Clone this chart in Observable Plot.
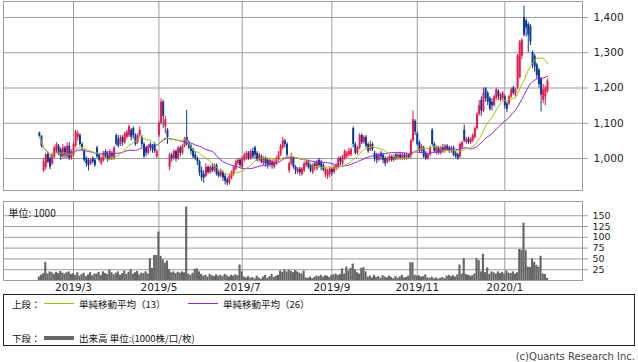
<!DOCTYPE html>
<html><head><meta charset="utf-8">
<script src="https://cdn.jsdelivr.net/npm/d3@7"></script>
<script src="https://cdn.jsdelivr.net/npm/@observablehq/plot@0.6"></script>
<style>
body{margin:0;background:#fff;}
#wrap{position:relative;width:638px;height:362px;overflow:hidden;font-family:"DejaVu Sans",sans-serif;}
#main{position:absolute;left:0;top:0;}
#vol{position:absolute;left:0;top:195px;}
#legend{position:absolute;left:3px;top:294px;width:630px;height:50px;border:1px solid #222;font-family:"Noto Sans CJK JP",sans-serif;font-size:9.5px;color:#111;}
.lt{position:absolute;line-height:12px;white-space:nowrap;}
.ln{position:absolute;width:30px;}
#copy{position:absolute;right:3px;top:351px;font-size:10px;color:#444;line-height:12px;}
</style></head><body>
<div id="wrap">
<div id="main"></div>
<div id="vol"></div>
<div id="legend">
  <div class="lt" style="left:8px;top:3px;">上段：</div>
  <div class="ln" style="left:40px;top:8px;height:1px;background:#99cc00;"></div>
  <div class="lt" style="left:75px;top:3px;">単純移動平均（13）</div>
  <div class="ln" style="left:184px;top:8px;height:1px;background:#9a1ff2;"></div>
  <div class="lt" style="left:219px;top:3px;">単純移動平均（26）</div>
  <div class="lt" style="left:8px;top:37px;">下段：</div>
  <div class="ln" style="left:40px;top:41px;height:4px;background:#666;"></div>
  <div class="lt" style="left:75px;top:37px;">出来高 単位:(1000株/口/枚)</div>
</div>
<div id="copy">(c)Quants Research Inc.</div>
</div>
<script>
const open = [
1072,1062,965,975,1012,1000,985,1005,1020,1035,
1025,1005,1030,1005,1035,1000,1010,1035,1060,1065,
1040,1020,1000,995,985,1000,995,1030,1010,985,
995,1020,1010,1000,1015,1000,1065,1055,1040,1060,
1045,1060,1065,1080,1085,1065,1045,1065,1060,1040,
1030,1015,1040,1035,1040,1005,1065,1100,1160,1090,
1080,975,1010,1000,1020,1000,1030,1015,1035,1060,
1045,1035,1025,1010,1000,990,965,955,950,975,
960,975,965,980,960,950,960,950,940,930,
945,955,970,985,995,975,995,1000,1015,1000,
1020,1030,1015,995,1005,985,1000,995,980,990,
975,985,995,1010,1030,1050,1040,965,985,1000,
975,960,970,955,965,980,990,980,960,985,
970,995,990,980,955,950,955,970,960,970,
975,1000,985,1000,1005,1010,1010,1085,1040,1015,
1030,1065,1045,1060,1040,1025,1040,1015,1010,995,
1015,1010,1000,990,995,1005,995,1010,1000,1010,
1000,1010,1000,1010,1005,1050,1105,1070,1045,1020,
1030,1015,1000,1010,1080,1040,1015,1030,1015,1030,
1020,1035,1030,1020,1030,1015,1010,1005,1030,1080,
1045,1055,1045,1050,1060,1085,1125,1165,1135,1200,
1185,1170,1160,1150,1170,1190,1165,1170,1175,1155,
1155,1175,1200,1180,1200,1230,1290,1400,1390,1380,
1375,1300,1290,1265,1250,1225,1165,1175,1190];
const high = [
1075,1065,1000,1015,1018,1005,1015,1035,1045,1040,
1030,1040,1035,1045,1045,1025,1045,1080,1078,1070,
1045,1025,1005,1000,1000,1005,1000,1035,1015,1005,
1020,1025,1020,1025,1020,1035,1070,1065,1065,1065,
1075,1080,1095,1085,1090,1070,1070,1090,1065,1045,
1035,1040,1045,1040,1045,1025,1105,1170,1165,1120,
1085,1015,1015,1025,1025,1035,1035,1040,1060,1137,
1050,1040,1030,1020,1005,995,975,965,985,980,
980,985,985,985,965,970,965,955,945,955,
965,980,995,1000,1000,1005,1015,1020,1020,1025,
1030,1035,1020,1015,1010,1005,1005,1000,1000,995,
995,1005,1020,1040,1060,1055,1045,990,1015,1005,
980,975,975,975,990,995,995,985,985,990,
995,1000,995,985,975,970,975,975,980,985,
1005,1005,1010,1025,1020,1030,1030,1090,1045,1035,
1070,1070,1065,1065,1045,1050,1045,1020,1015,1015,
1020,1015,1005,1005,1010,1010,1012,1015,1015,1015,
1015,1015,1015,1012,1055,1135,1110,1075,1050,1040,
1035,1020,1015,1035,1085,1045,1035,1035,1035,1040,
1040,1040,1035,1035,1035,1020,1015,1045,1050,1095,
1060,1060,1060,1070,1090,1130,1165,1175,1200,1200,
1190,1175,1170,1180,1200,1195,1185,1190,1180,1160,
1180,1200,1205,1200,1295,1335,1340,1432,1395,1385,
1380,1305,1295,1270,1255,1230,1210,1205,1225];
const low = [
1058,1030,960,968,985,968,980,1000,1015,1008,
995,1000,1000,1000,995,995,1005,1030,1050,1035,
1020,990,975,965,980,985,975,1000,990,980,
990,1000,990,995,995,995,1035,1030,1035,1035,
1040,1055,1060,1050,1055,1035,1040,1060,1030,1000,
1005,1010,1020,1015,1015,1000,1060,1095,1085,1070,
1040,965,990,995,990,995,1005,1010,1030,1035,
1025,1010,1000,995,980,950,935,930,945,955,
955,960,960,950,945,945,935,925,922,925,
940,950,965,980,975,970,990,995,995,995,
1000,1000,990,990,985,980,975,970,975,970,
970,980,990,1005,1025,1030,1005,958,980,970,
955,955,950,950,960,975,970,960,955,965,
965,975,965,962,945,940,945,950,955,965,
970,980,980,995,1000,1005,1005,1030,1010,1010,
1025,1040,1040,1030,1015,1020,1020,990,985,990,
995,985,977,985,990,990,990,995,995,995,
995,995,995,998,1000,1045,1065,1035,1015,1015,
1000,995,995,1005,1035,1015,1010,1010,1010,1015,
1015,1020,1015,1015,1005,1000,995,1000,1025,1045,
1040,1040,1040,1045,1055,1080,1120,1120,1130,1160,
1150,1135,1135,1145,1165,1165,1160,1165,1140,1130,
1150,1170,1180,1175,1195,1225,1280,1345,1345,1300,
1320,1255,1245,1225,1200,1132,1155,1150,1185];
const close = [
1063,1035,990,1010,990,975,1010,1030,1040,1015,
1005,1030,1010,1035,1000,1020,1040,1075,1070,1040,
1030,995,985,980,995,990,980,1005,995,1000,
1015,1005,995,1020,1005,1030,1040,1035,1060,1045,
1070,1075,1090,1060,1065,1040,1065,1080,1040,1005,
1015,1035,1030,1025,1020,1020,1100,1160,1120,1110,
1060,1010,1000,1020,1000,1030,1015,1035,1055,1040,
1030,1020,1005,1000,990,960,945,945,975,960,
975,965,980,955,950,965,945,935,930,950,
960,975,990,995,980,1000,1010,1015,1000,1020,
1005,1010,995,1010,990,1000,985,980,995,980,
990,1000,1010,1035,1050,1040,1010,985,1005,975,
965,970,960,970,985,990,975,965,980,975,
990,980,975,968,970,965,970,960,975,980,
1000,990,1005,1020,1015,1020,1025,1040,1015,1030,
1065,1045,1060,1035,1020,1040,1025,1000,995,1010,
1005,995,985,1000,1005,995,1005,1000,1010,1000,
1010,1000,1010,1002,1050,1110,1075,1040,1020,1035,
1005,1000,1010,1030,1040,1020,1030,1015,1030,1020,
1035,1025,1020,1030,1010,1005,1000,1040,1045,1050,
1055,1045,1055,1065,1085,1125,1150,1135,1185,1170,
1160,1140,1150,1175,1195,1175,1180,1185,1150,1140,
1175,1195,1185,1195,1290,1330,1335,1350,1370,1350,
1330,1265,1260,1235,1210,1180,1195,1200,1220];
const volume = [
8,12,16,42,
15,20,18,14,19,16,21,17,15,18,20,14,
16,12,18,10,14,17,9,13,18,11,15,
15,19,12,20,16,14,24,18,13,
17,20,12,16,22,14,19,25,15,18,21,13,17,16,20,15,
50,28,58,58,112,56,48,40,45,25,
18,20,16,19,17,20,18,
170,
15,12,17,26,27,20,14,
10,12,8,14,11,9,13,10,12,9,14,11,8,12,10,13,11,
36,
20,8,6,9,5,7,4,10,6,3,8,12,5,9,14,7,10,12,
22,19,25,20,24,21,18,23,20,17,15,22,
6,5,8,4,7,
10,9,12,8,11,10,7,12,
13,15,12,14,27,
15,31,22,28,38,25,18,15,
28,30,20,
8,10,6,12,7,9,5,11,8,6,10,7,4,9,5,8,12,6,7,10,
41,41,
12,10,11,8,9,13,
6,5,8,4,6,3,5,7,4,
10,12,9,11,8,13,
36,15,51,
14,12,10,11,15,
51,46,20,61,
18,29,14,20,
18,15,20,16,19,15,22,17,16,20,15,18,
72,70,133,69,
31,30,50,42,35,31,56,15,14,5];
// month-start trading-day positions and labels
const monthIdx = [16, 56, 95, 137, 177, 218];
const monthLabels = ["2019/3", "2019/5", "2019/7", "2019/9", "2019/11", "2020/1"];
const priceTicks = [1000, 1100, 1200, 1300, 1400];
const volTicks = [25, 50, 75, 100, 125, 150];
const volUnit = ["単位: 1000"];

const red = "#f2184a", blue = "#0b3a98", grid = "#9c9c9c";
const data = close.map((c, i) => ({i, o: open[i], h: high[i], l: low[i], c, up: c >= open[i]}));
const vdata = volume.map((v, i) => ({i, v}));
const xDomain = [-16.8, 254.4];
const col = d => d.up ? red : blue;

const main = Plot.plot({
  width: 638, height: 191,
  marginTop: 1, marginBottom: 1, marginLeft: 3, marginRight: 56,
  style: {fontFamily: "DejaVu Sans", fontSize: "10px", background: "white"},
  x: {domain: xDomain, axis: null, label: null},
  y: {domain: [909.4, 1445.3], label: null},
  marks: [
    Plot.gridX(monthIdx, {stroke: grid, strokeOpacity: 1}),
    Plot.gridY(priceTicks, {stroke: grid, strokeOpacity: 1}),
    Plot.axisY(priceTicks, {anchor: "right", label: null, tickSize: 5, tickPadding: 6, tickFormat: d3.format(","), stroke: grid, fill: "#222", fontSize: 10.5}),
    Plot.ruleX(data, {x: "i", y1: "l", y2: "h", stroke: col, strokeWidth: 1}),
    Plot.ruleX(data, {x: "i", y1: "o", y2: "c", stroke: col, strokeWidth: 2}),
    Plot.lineY(data, Plot.windowY({k: 26, anchor: "end", strict: false}, {x: "i", y: "c", stroke: "#9a1ff2", strokeWidth: 1})),
    Plot.lineY(data, Plot.windowY({k: 13, anchor: "end", strict: false}, {x: "i", y: "c", stroke: "#99cc00", strokeWidth: 1})),
    Plot.frame({stroke: grid})
  ]
});
document.getElementById("main").appendChild(main);

const vol = Plot.plot({
  width: 638, height: 100,
  marginTop: 6, marginBottom: 15, marginLeft: 3, marginRight: 56,
  style: {fontFamily: "DejaVu Sans", fontSize: "10px", background: "transparent"},
  x: {domain: xDomain, label: null},
  y: {domain: [0, 183], label: null},
  marks: [
    Plot.gridX(monthIdx, {stroke: grid, strokeOpacity: 1}),
    Plot.gridY(volTicks, {stroke: grid, strokeOpacity: 1}),
    Plot.rectY(vdata, {x1: d => d.i - 0.5, x2: d => d.i + 0.5, y: "v", fill: "#666", inset: 0}),
    Plot.axisY(volTicks, {anchor: "right", label: null, tickSize: 5, tickPadding: 5, stroke: grid, fill: "#222", fontSize: 9.5}),
    Plot.axisX(monthIdx, {anchor: "bottom", label: null, tickSize: 0, tickPadding: 3, tickFormat: d => monthLabels[monthIdx.indexOf(d)], fill: "#222", fontSize: 10.5}),
    Plot.frame({stroke: grid}),
    Plot.text(volUnit, {frameAnchor: "top-left", dx: 5, dy: 8, textAnchor: "start", fill: "#222", fontSize: 10, fontFamily: "Noto Sans CJK JP"})
  ]
});
document.getElementById("vol").appendChild(vol);
</script>
</body></html>
